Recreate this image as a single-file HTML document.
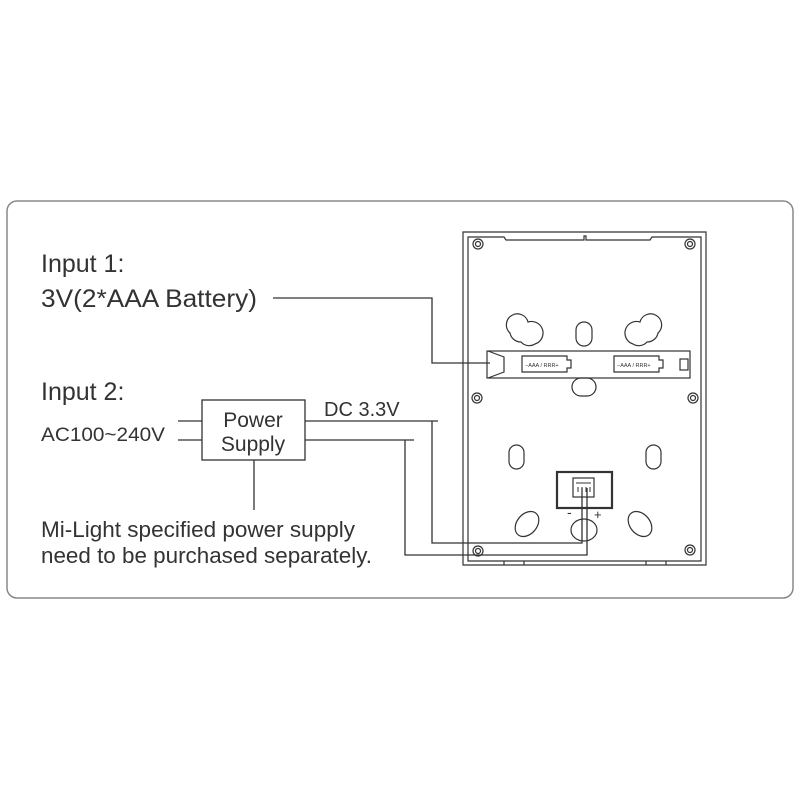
<!DOCTYPE html>
<html><head><meta charset="utf-8"><style>
html,body{margin:0;padding:0;background:#fff;}
svg{display:block;}
text{font-family:"Liberation Sans",Arial,sans-serif;fill:#333;}
</style></head><body>
<svg width="800" height="800" viewBox="0 0 800 800" xmlns="http://www.w3.org/2000/svg">
<rect x="7" y="201" width="786" height="397" rx="10" fill="none" stroke="#888" stroke-width="1.5"/>
<g>
<text x="41" y="272" font-size="25">Input 1:</text>
<text x="41" y="307" font-size="25" textLength="216" lengthAdjust="spacingAndGlyphs">3V(2*AAA Battery)</text>
<text x="41" y="400" font-size="25">Input 2:</text>
<text x="41" y="441" font-size="19" textLength="124" lengthAdjust="spacingAndGlyphs">AC100~240V</text>
<text x="41" y="537" font-size="22" textLength="314" lengthAdjust="spacingAndGlyphs">Mi-Light specified power supply</text>
<text x="41" y="563" font-size="22" textLength="331" lengthAdjust="spacingAndGlyphs">need to be purchased separately.</text>
<text x="253" y="427" font-size="21" text-anchor="middle">Power</text>
<text x="253" y="451" font-size="21" text-anchor="middle">Supply</text>
<text x="324" y="416" font-size="20">DC 3.3V</text>
</g>
<g fill="none" stroke="#333" stroke-width="1.3">
<rect x="202" y="400" width="103" height="60"/>
<line x1="178" y1="421" x2="202" y2="421"/>
<line x1="178" y1="440" x2="202" y2="440"/>
<line x1="254" y1="460" x2="254" y2="510"/>
<polyline points="273,298 432,298 432,363 490,363"/>
<polyline points="305,421 438,421"/>
<polyline points="432,421 432,543 582,543 582,488"/>
<polyline points="305,440 414,440"/>
<polyline points="405,440 405,555 587,555 587,488"/>
</g>
<g fill="none" stroke="#333" stroke-width="1.2">
<path d="M463,232 L706,232 L706,565 L463,565 Z"/>
<path d="M468,237 L504,237 L506,240 L584,240 L584,236 L586,236 L586,240 L650,240 L652,237 L701,237 L701,561 L468,561 Z"/>
<line x1="504" y1="561" x2="504" y2="565"/><line x1="524" y1="561" x2="524" y2="565"/>
<line x1="646" y1="561" x2="646" y2="565"/><line x1="666" y1="561" x2="666" y2="565"/>
<circle cx="478" cy="244" r="5"/><circle cx="478" cy="244" r="2.5"/>
<circle cx="690" cy="244" r="5"/><circle cx="690" cy="244" r="2.5"/>
<circle cx="477" cy="398" r="5"/><circle cx="477" cy="398" r="2.5"/>
<circle cx="693" cy="398" r="5"/><circle cx="693" cy="398" r="2.5"/>
<circle cx="478" cy="551" r="5"/><circle cx="478" cy="551" r="2.5"/>
<circle cx="690" cy="550" r="5"/><circle cx="690" cy="550" r="2.5"/>
<path d="M510,333 A11,11 0 1 1 528,322 A11,11 0 1 1 535,344 A11,11 0 0 1 521,342 A11,11 0 0 1 510,333 Z"/>
<path d="M658,333 A11,11 0 1 0 640,322 A11,11 0 1 0 633,344 A11,11 0 0 0 647,342 A11,11 0 0 0 658,333 Z"/>
<rect x="576" y="322" width="16" height="24" rx="8"/>
<rect x="572" y="378" width="24" height="18" rx="9"/>
<rect x="509" y="445" width="15" height="24" rx="7.5"/>
<rect x="646" y="445" width="15" height="24" rx="7.5"/>
<ellipse cx="527" cy="524" rx="10" ry="14" transform="rotate(40 527 524)"/>
<ellipse cx="640" cy="524" rx="10" ry="14" transform="rotate(-40 640 524)"/>
<ellipse cx="584" cy="530" rx="13" ry="11"/>
<rect x="487" y="351" width="203" height="27"/>
<polyline points="488,351 504,357 504,372 488,378"/>
<path d="M522,356 L567,356 L567,360 L571,360 L571,368 L567,368 L567,372 L522,372 Z"/>
<path d="M614,356 L659,356 L659,360 L663,360 L663,368 L659,368 L659,372 L614,372 Z"/>
<rect x="680" y="359" width="8" height="11"/>
<rect x="557" y="472" width="55" height="36" stroke-width="2.2"/>
<rect x="573" y="478" width="21" height="19"/>
</g>
<g>
<text x="525" y="367" font-size="5.5">−AAA / RRR+</text>
<text x="617" y="367" font-size="5.5">−AAA / RRR+</text>
<text x="567" y="517" font-size="14">-</text>
<text x="594" y="519" font-size="13">+</text>
</g>
<g stroke="#333" stroke-width="1" fill="none">
<line x1="576" y1="483" x2="591" y2="483"/>
<line x1="578" y1="487" x2="578" y2="492"/><line x1="582" y1="487" x2="582" y2="492"/>
<line x1="586" y1="487" x2="586" y2="492"/><line x1="590" y1="487" x2="590" y2="492"/>
</g>
</svg>
</body></html>
